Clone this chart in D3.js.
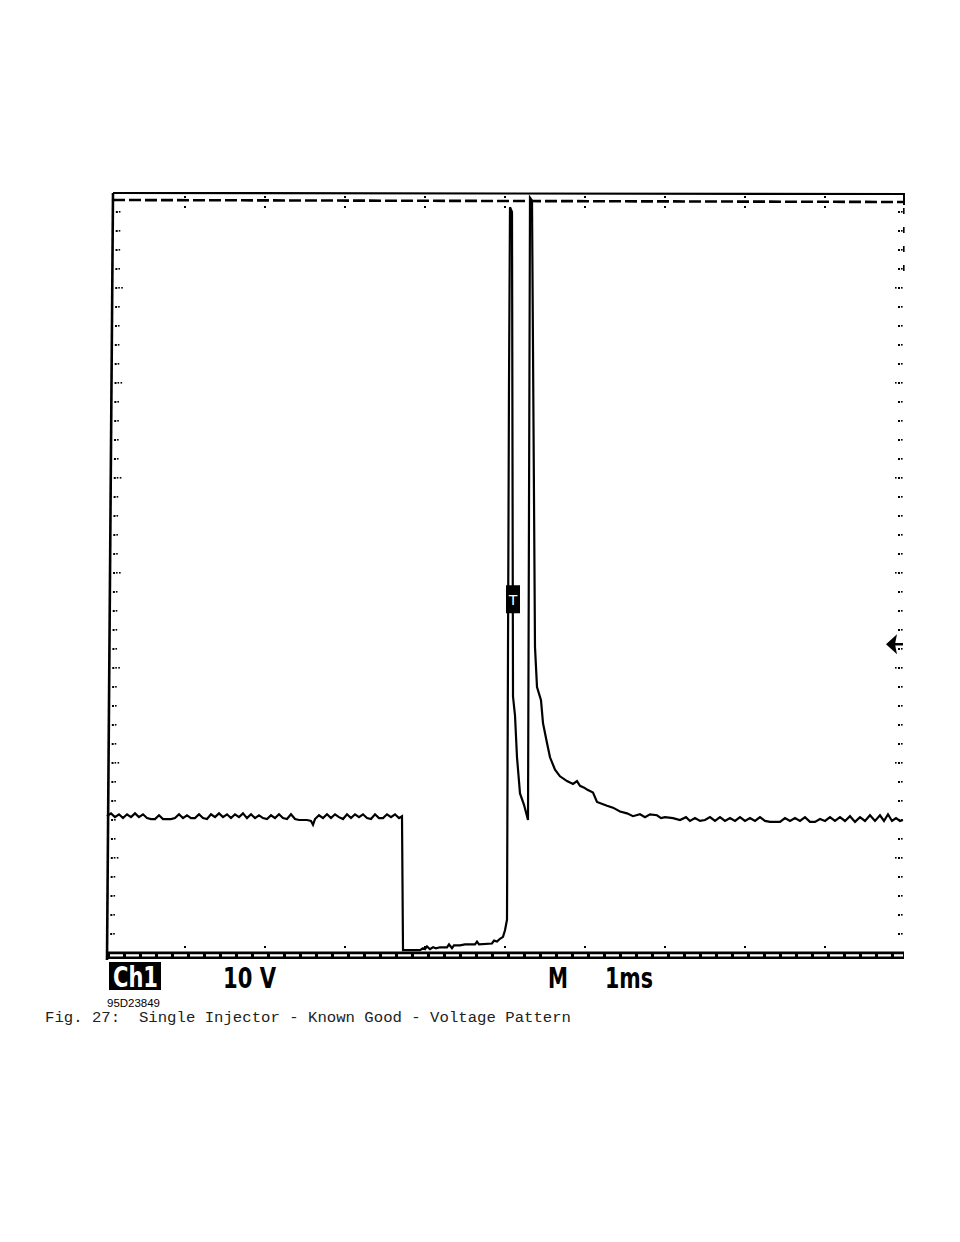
<!DOCTYPE html>
<html><head><meta charset="utf-8">
<script src="https://cdn.jsdelivr.net/npm/d3@7/dist/d3.min.js"></script>
<style>html,body{margin:0;padding:0;background:#fff;}svg{display:block;}</style>
</head><body>
<svg id="chart" width="960" height="1242"></svg>
<script>
// ---- data: time in ms, voltage in V (10 V/div, 1 ms/div) ----
const xDivisions = [0,1,2,3,4,5,6,7,8,9,10];
const yDivisions = [0,10,20,30,40,50,60,70,80];
const labelChannel = "Ch1";
const labelVolts = "10 V";
const labelMode = "M";
const labelTime = "1ms";
const figureId = "95D23849";
const caption = "Fig. 27:  Single Injector - Known Good - Voltage Pattern";

const plateauBefore = [
 [0.025,14.4],[0.075,14.7],[0.125,14.3],[0.175,14.6],[0.225,14.2],[0.275,14.6],[0.325,14.3],[0.375,14.7],
 [0.425,14.3],[0.475,14.6],[0.525,14.2],[0.575,14.1],[0.625,14.1],[0.675,14.5],[0.725,14.1],[0.775,14.1],
 [0.825,14.1],[0.875,14.2],[0.925,14.6],[0.975,14.2],[1.025,14.5],[1.075,14.2],[1.125,14.2],[1.175,14.6],
 [1.225,14.2],[1.275,14.1],[1.325,14.6],[1.375,14.3],[1.425,14.7],[1.475,14.3],[1.525,14.6],[1.575,14.2],
 [1.625,14.6],[1.675,14.3],[1.725,14.7],[1.775,14.2],[1.825,14.6],[1.875,14.2],[1.925,14.5],[1.975,14.2],
 [2.025,14.1],[2.075,14.5],[2.125,14.2],[2.175,14.6],[2.225,14.2],[2.275,14.1],[2.325,14.6],[2.375,14.1],
 [2.425,14.0],[2.475,14.0],[2.525,14.0],[2.575,13.9],[2.6,13.5],[2.625,14.1],[2.675,14.5],[2.725,14.2],
 [2.775,14.6],[2.825,14.2],[2.875,14.6],[2.925,14.3],[2.975,14.1],[3.025,14.6],[3.075,14.2],[3.125,14.6],
 [3.175,14.3],[3.225,14.6],[3.275,14.2],[3.325,14.1],[3.375,14.6],[3.425,14.2],[3.475,14.2],[3.525,14.6],
 [3.575,14.3],[3.625,14.6],[3.675,14.2],[3.7125,14.4]
];
const injectorOn = [
 [3.725,0.3],[3.9375,0.3],[3.975,0.5],[4.0,0.4],[4.025,0.7],[4.0625,0.4],[4.1,0.6],[4.1375,0.5],
 [4.1875,0.6],[4.275,0.6],[4.3,0.9],[4.3375,0.5],[4.3625,0.8],[4.4375,0.8],[4.5,0.9],[4.625,0.9],
 [4.65,1.2],[4.675,0.9],[4.8375,1.0],[4.8625,1.3],[4.9,1.2],[4.9375,1.5],[4.975,1.7],[5.0,2.4],[5.025,3.5]
];
const spikes = [
 [5.05,60],[5.0625,78.5],[5.0875,78.0],[5.1,27.0],[5.125,25.0],[5.15,20.6],[5.1875,16.8],[5.2375,15.6],
 [5.2875,14.0],[5.3125,79.5],[5.3375,79.2],[5.375,32.2]
];
const decayTail = [
 [5.4,28.0],[5.45,26.6],[5.475,24.2],[5.525,22.1],[5.5625,20.6],[5.625,19.3],[5.6875,18.6],[5.775,18.1],
 [5.85,17.8],[5.9,18.1],[5.9375,17.6],[5.99,17.4],[6.025,17.2],[6.1,16.9],[6.15,15.9],[6.275,15.5],
 [6.35,15.3],[6.4375,14.9],[6.525,14.7],[6.6,14.4],[6.6875,14.6],[6.75,14.3],[6.8125,14.6],[6.9,14.5],
 [6.95,14.2],[7.0,14.3],[7.1,14.2]
];
const plateauAfter = [
 [7.1875,14.0],[7.2625,14.3],[7.3125,13.9],[7.375,14.2],[7.4375,13.9],[7.5,14.0],[7.5625,14.3],[7.625,13.9],
 [7.6875,14.3],[7.75,13.9],[7.8125,14.2],[7.875,13.9],[7.9375,14.3],[8.0,13.9],[8.0625,14.2],[8.125,13.9],
 [8.1875,14.3],[8.25,13.9],[8.3125,13.8],[8.375,13.8],[8.4375,13.8],[8.5,14.2],[8.5625,13.9],[8.625,14.2],
 [8.6875,13.9],[8.75,14.3],[8.8125,13.8],[8.875,13.8],[8.9375,14.1],[9.0,13.9],[9.0625,14.3],[9.125,13.9],
 [9.1875,14.3],[9.25,13.9],[9.3125,14.4],[9.375,13.8],[9.4375,14.3],[9.5,13.9],[9.5625,14.5],[9.625,13.9],
 [9.6875,14.5],[9.7375,13.9],[9.7875,14.6],[9.8375,13.9],[9.8875,14.2],[9.9375,13.9],[9.975,14.0]
];
const triggerTime = 5.02;
const triggerLevelVolts = 32.5;

// ---- drawing ----
const svg = d3.select("#chart");
const x = d3.scaleLinear().domain([0,10]).range([105,905]);
const y = d3.scaleLinear().domain([0,80]).range([953,193]);

const frame = svg.append("g");
frame.append("line").attr("x1",113).attr("y1",y(80)).attr("x2",107).attr("y2",960)
  .attr("stroke","#000").attr("stroke-width",2.6);
frame.append("line").attr("x1",113).attr("x2",905).attr("y1",y(80)).attr("y2",y(80)+1)
  .attr("stroke","#000").attr("stroke-width",2.2);
frame.append("line").attr("x1",113).attr("x2",903).attr("y1",200).attr("y2",202)
  .attr("stroke","#000").attr("stroke-width",2.6).attr("stroke-dasharray","12,4");
frame.append("line").attr("x1",904).attr("x2",904).attr("y1",y(80)).attr("y2",205)
  .attr("stroke","#000").attr("stroke-width",2);
frame.append("rect").attr("x",107).attr("y",951.5).attr("width",797).attr("height",7.5).attr("fill","#000");
frame.append("line").attr("x1",110).attr("x2",903).attr("y1",955.3).attr("y2",955.3)
  .attr("stroke","#fff").attr("stroke-width",2.3).attr("stroke-dasharray","13,3");

// graticule dots
const minorY = d3.range(0,80.001,2);
const dots = svg.append("g").attr("fill","#000");
xDivisions.slice(1,-1).forEach(t=>{
  dots.append("rect").attr("x",x(t)-1).attr("y",946).attr("width",2).attr("height",2);
  dots.append("rect").attr("x",x(t)-1).attr("y",206).attr("width",2).attr("height",2);
  dots.append("rect").attr("x",x(t)-1).attr("y",196).attr("width",2).attr("height",2);
});
minorY.slice(1,-1).forEach(v=>{
  const yy = y(v);
  const major = (v % 10 === 0);
  const lx = 116 - (yy-193)*6/767;
  dots.append("rect").attr("x",lx).attr("y",yy-1).attr("width",2).attr("height",2);
  dots.append("rect").attr("x",lx+3).attr("y",yy-1).attr("width",1.6).attr("height",1.6);
  if (major) dots.append("rect").attr("x",lx+6).attr("y",yy-1).attr("width",1.6).attr("height",1.6);
  dots.append("rect").attr("x",898).attr("y",yy-1).attr("width",2).attr("height",2);
  dots.append("rect").attr("x",901).attr("y",yy-1).attr("width",1.6).attr("height",1.6);
  if (major) dots.append("rect").attr("x",895).attr("y",yy-1).attr("width",1.6).attr("height",1.6);
});
[0,1,2,3].forEach(i=>{
  dots.append("rect").attr("x",903).attr("y",y(78-i*2)-4).attr("width",1.6).attr("height",6);
});

// trace
const line = d3.line().x(d=>x(d[0])).y(d=>y(d[1]));
const trace = [].concat(plateauBefore, injectorOn, spikes, decayTail, plateauAfter);
svg.append("path").datum(trace).attr("d",line)
  .attr("fill","none").attr("stroke","#000").attr("stroke-width",2.2).attr("stroke-linejoin","miter");

// trigger marker "T"
const ay = y(triggerLevelVolts);
const tx = x(triggerTime);
const tg = svg.append("g");
tg.append("rect").attr("x",tx-0.6).attr("y",ay-59).attr("width",14).attr("height",28).attr("fill","#000");
tg.append("text").attr("x",tx+6.4).attr("y",ay-39)
  .attr("text-anchor","middle").attr("fill","#fff").attr("font-family","'Liberation Sans', Arial")
  .attr("font-size",15).text("T");

// trigger level arrow on right
svg.append("path").attr("d",`M886,${ay} L897,${ay-10} L895,${ay} L897,${ay+10} Z`).attr("fill","#000");
svg.append("line").attr("x1",890).attr("x2",903).attr("y1",ay).attr("y2",ay).attr("stroke","#000").attr("stroke-width",2.5);

// labels
const condensed = "'Liberation Sans Narrow','DejaVu Sans Condensed','Liberation Sans',Arial,sans-serif";
svg.append("rect").attr("x",109).attr("y",962).attr("width",52).attr("height",28).attr("fill","#000");
svg.append("text").attr("x",113).attr("y",987).attr("fill","#fff").attr("font-family",condensed)
  .attr("font-size",29).attr("font-weight","bold").attr("textLength",45).attr("lengthAdjust","spacingAndGlyphs").text(labelChannel);
svg.append("text").attr("x",223).attr("y",988).attr("fill","#000").attr("font-family",condensed)
  .attr("font-size",29).attr("font-weight","bold").attr("textLength",53).attr("lengthAdjust","spacingAndGlyphs").text(labelVolts);
svg.append("text").attr("x",548).attr("y",988).attr("fill","#000").attr("font-family",condensed)
  .attr("font-size",29).attr("font-weight","bold").attr("textLength",20).attr("lengthAdjust","spacingAndGlyphs").text(labelMode);
svg.append("text").attr("x",605).attr("y",988).attr("fill","#000").attr("font-family",condensed)
  .attr("font-size",29).attr("font-weight","bold").attr("textLength",48).attr("lengthAdjust","spacingAndGlyphs").text(labelTime);
svg.append("text").attr("x",107).attr("y",1007).attr("fill","#000").attr("font-family","'Liberation Sans',Arial,sans-serif")
  .attr("font-size",11).attr("textLength",53).attr("lengthAdjust","spacingAndGlyphs").text(figureId);
svg.append("text").attr("x",45).attr("y",1022).attr("fill","#222").attr("font-family","'Liberation Mono','Courier New',monospace")
  .attr("font-size",15.5).attr("textLength",526).attr("lengthAdjust","spacingAndGlyphs")
  .style("white-space","pre").attr("xml:space","preserve").text(caption);
</script>
</body></html>
